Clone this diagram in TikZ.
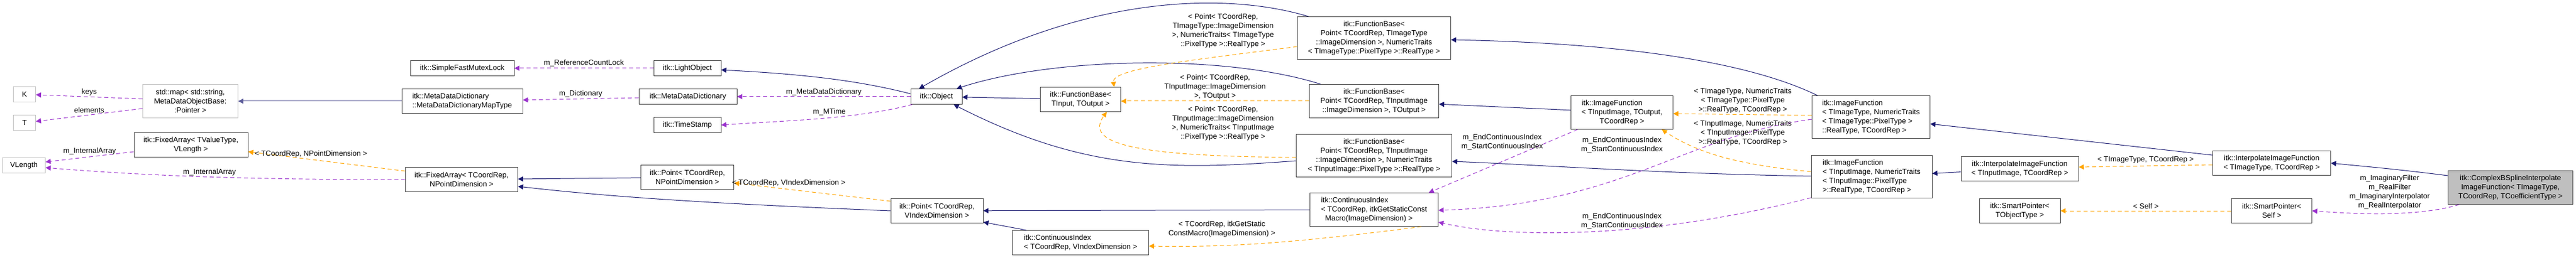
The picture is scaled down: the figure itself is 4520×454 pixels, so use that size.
\documentclass[tikz,border=0pt]{standalone}
\usepackage{fontspec}
\setmainfont{Liberation Sans}
\usetikzlibrary{arrows.meta,calc}
\definecolor{navyc}{HTML}{191970}
\definecolor{purp}{HTML}{9A32CD}
\definecolor{orng}{HTML}{FFA500}
\newcommand{\lblf}{\fontsize{13}{16}\selectfont}
\begin{document}
\begin{tikzpicture}[x=1pt,y=-1pt,
  box/.style={draw=black!75, line width=0.9pt, fill=white, font=\lblf, align=center, inner sep=0pt},
  gbox/.style={box, draw=black!25},
  lbox/.style={box, align=left},
  inh/.style={draw=navyc, line width=1pt, -{Triangle[length=9pt,width=9pt]}},
  mem/.style={draw=purp, line width=1pt, dash pattern=on 7pt off 5pt, -{Triangle[length=9pt,width=9pt]}},
  tpl/.style={draw=orng, line width=1pt, dash pattern=on 7pt off 5pt, -{Triangle[length=9pt,width=9pt]}},
  lab/.style={font=\lblf, align=center, inner sep=0pt}]
\useasboundingbox[fill=white] (0,0) rectangle (4520,454);
\newcommand{\bx}[6]{\node[#1, minimum width=#4pt, minimum height=#5pt] (#2) at (#3) {#6};}
\bx{gbox}{K}{43,166}{39}{27}{K}
\bx{gbox}{T}{43,216}{39}{27}{T}
\bx{gbox}{VL}{42,291}{75}{27}{VLength}
\bx{gbox}{map}{334,178}{167}{59}{std::map< std::string,\\ MetaDataObjectBase:\\:Pointer >}
\bx{box}{fav}{335,255}{200}{43}{itk::FixedArray< TValueType,\\ VLength >}
\bx{box}{mutex}{811,120}{182}{27}{itk::SimpleFastMutexLock}
\bx{lbox}{maptype}{811,178}{212}{43}{itk::MetaDataDictionary\\::MetaDataDictionaryMapType}
\bx{box}{fan}{810,316}{197}{43}{itk::FixedArray< TCoordRep,\\ NPointDimension >}
\bx{box}{light}{1206,120}{118}{27}{itk::LightObject}
\bx{box}{mdd}{1207,170}{172}{27}{itk::MetaDataDictionary}
\bx{box}{ts}{1206,220}{118}{27}{itk::TimeStamp}
\bx{box}{pn}{1206,312}{163}{43}{itk::Point< TCoordRep,\\ NPointDimension >}
\bx{box}{pv}{1644,371}{162}{43}{itk::Point< TCoordRep,\\ VIndexDimension >}
\bx{lbox}{civ}{1896,427}{239}{43}{itk::ContinuousIndex\\< TCoordRep, VIndexDimension >}
\bx{box}{obj}{1643,170}{90}{27}{itk::Object}
\bx{box}{fbio}{1896,175}{141}{43}{itk::FunctionBase<\\ TInput, TOutput >}
\bx{box}{fbA}{2411,67}{269}{75}{itk::FunctionBase<\\ Point< TCoordRep, TImageType\\::ImageDimension >, NumericTraits\\< TImageType::PixelType >::RealType >}
\bx{box}{fbB}{2411,178}{227}{59}{itk::FunctionBase<\\ Point< TCoordRep, TInputImage\\::ImageDimension >, TOutput >}
\bx{box}{fbC}{2411,274}{273}{75}{itk::FunctionBase<\\ Point< TCoordRep, TInputImage\\::ImageDimension >, NumericTraits\\< TInputImage::PixelType >::RealType >}
\bx{lbox}{cib}{2411,369}{225}{59}{itk::ContinuousIndex\\< TCoordRep, itkGetStaticConst\\ \ \ Macro(ImageDimension) >}
\bx{box}{ifA}{2846,198}{179}{59}{itk::ImageFunction\phantom{XXXX}\\< TInputImage, TOutput,\\TCoordRep >}
\bx{lbox}{ifB}{3283,206}{207}{75}{itk::ImageFunction\\< TImageType, NumericTraits\\< TImageType::PixelType >\\ ::RealType, TCoordRep >}
\bx{lbox}{ifC}{3284,311}{212}{75}{itk::ImageFunction\\< TInputImage, NumericTraits\\< TInputImage::PixelType\\ >::RealType, TCoordRep >}
\bx{box}{ii}{3544,297}{206}{43}{itk::InterpolateImageFunction\\< TInputImage, TCoordRep >}
\bx{box}{spt}{3544,371}{142}{43}{itk::SmartPointer<\\ TObjectType >}
\bx{box}{it}{3986,287}{207}{43}{itk::InterpolateImageFunction\\< TImageType, TCoordRep >}
\bx{box}{sps}{3986,371}{141}{43}{itk::SmartPointer<\\ Self >}
\node[box, fill=black!25, minimum width=219pt, minimum height=59pt] (cb) at (4405,330) {itk::ComplexBSplineInterpolate\\ImageFunction< TImageType,\\ TCoordRep, TCoefficientType >};
% inheritance
\draw[inh, draw=navyc!70] (maptype) -- (map);
\draw[inh] (pn) -- (fan);
\draw[inh] (pv.west) .. controls (1300,360) and (1100,350) .. ($(fan.east)+(0,12)$);
\draw[inh] ($(civ.north west)+(25,0)$) -- ($(pv.south east)+(0,-2)$);
\draw[inh] (cib) -- (pv);
\draw[inh] ($(obj.west)+(0,-5)$) .. controls (1500,140) and (1400,130) .. ($(light.east)+(0,3)$);
\draw[inh] (fbio) -- (obj);
\draw[inh] ($(fbA.north west)+(20,0)$) .. controls (2150,-15) and (1900,-10) .. ($(obj.north west)+(15,0)$);
\draw[inh] ($(fbB.north west)+(20,0)$) .. controls (2150,95) and (1850,100) .. ($(obj.north east)+(-10,0)$);
\draw[inh] ($(fbC.west)+(0,9)$) .. controls (2050,300) and (1900,300) .. ($(obj.south east)+(-15,0)$);
\draw[inh] (ifA) -- (fbB);
\draw[inh] ($(ifB.north west)+(10,0)$) .. controls (3050,100) and (2800,75) .. ($(fbA.east)+(0,3)$);
\draw[inh] ($(ifC.west)+(0,-1)$) .. controls (2900,305) and (2700,290) .. ($(fbC.east)+(0,10)$);
\draw[inh] (ii) -- (ifC);
\draw[inh] ($(it.west)+(0,-14)$) -- ($(ifB.east)+(0,12)$);
\draw[inh] ($(cb.north west)+(0,9)$) .. controls (4200,297) and (4150,293) .. (it.east);
% members
\draw[mem] ($(map.west)+(0,-4)$) -- node[lab, above=2pt, pos=0.5] (lk) {keys} (K);
\draw[mem] ($(map.west)+(0,13)$) -- node[lab, above=3pt, pos=0.5] (le) {elements} (T);
\draw[mem] ($(fav.west)+(0,12)$) -- node[lab, above=3pt, pos=0.5] (lm1) {m\_InternalArray} ($(VL.east)+(0,-6)$);
\draw[mem] ($(fan.west)+(0,0)$) .. controls (500,316) and (300,313) .. node[lab, pos=0.55, above=2pt] (lm2) {m\_InternalArray} ($(VL.east)+(0,4)$);
\draw[mem] (light) -- node[lab, above=2pt] (lr) {m\_ReferenceCountLock} (mutex);
\draw[mem] ($(mdd.west)+(0,2)$) -- node[lab, above=2pt] (ld) {m\_Dictionary} ($(maptype.east)+(0,-2)$);
\draw[mem] (obj) -- node[lab, above=1pt] (lmd) {m\_MetaDataDictionary} (mdd);
\draw[mem] ($(obj.south west)+(3,0)$) .. controls (1500,210) and (1380,212) .. node[lab, pos=0.45, above=4pt] (lmt) {m\_MTime} (ts.east);
\draw[mem] ($(ifA.south west)+(12,0)$) -- node[lab, pos=0.2, left=8pt] (le1) {m\_EndContinuousIndex\\m\_StartContinuousIndex} ($(cib.north east)+(-17,0)$);
\draw[mem] ($(ifB.west)+(0,4)$) .. controls (2950,240) and (2850,360) .. ($(cib.east)+(0,1)$);
\node[lab] (le2) at (2846,255) {m\_EndContinuousIndex\\m\_StartContinuousIndex};
\draw[mem] ($(ifC.south west)+(0,-1)$) .. controls (2900,420) and (2650,420) .. ($(cib.east)+(0,22)$);
\node[lab] (le3) at (2846,389) {m\_EndContinuousIndex\\m\_StartContinuousIndex};
\draw[mem] ($(cb.south west)+(20,0)$) .. controls (4250,380) and (4150,378) .. (sps.east);
\node[lab] (lsm) at (4193,338) {m\_ImaginaryFilter\\m\_RealFilter\\m\_ImaginaryInterpolator\\m\_RealInterpolator};
% templates
\draw[tpl] ($(fan.north west)+(0,7)$) -- node[lab, pos=0.6, above=3pt] (t1) {< TCoordRep, NPointDimension >} ($(fav.east)+(0,12)$);
\draw[tpl] ($(pv.north west)+(0,5)$) -- node[lab, pos=0.65, above=5pt] (t2) {< TCoordRep, VIndexDimension >} ($(pn.east)+(0,10)$);
\draw[tpl] ($(fbA.west)+(0,15)$) .. controls (2100,105) and (1950,120) .. ($(fbio.north east)+(-12,0)$);
\node[lab] (t3) at (2146,54) {< Point< TCoordRep,\\TImageType::ImageDimension\\>, NumericTraits< TImageType\\::PixelType >::RealType >};
\draw[tpl] ($(fbB.west)+(0,0)$) -- node[lab, above=2pt] (t4) {< Point< TCoordRep,\\TInputImage::ImageDimension\\>, TOutput >} ($(fbio.east)+(0,3)$);
\draw[tpl] ($(fbC.west)+(0,3)$) .. controls (2000,275) and (1900,255) .. ($(fbio.south east)+(-25,0)$);
\node[lab] (t5) at (2146,217) {< Point< TCoordRep,\\TInputImage::ImageDimension\\>, NumericTraits< TInputImage\\::PixelType >::RealType >};
\draw[tpl] ($(cib.south east)+(-30,0)$) .. controls (2250,430) and (2150,435) .. ($(civ.east)+(0,6)$);
\node[lab] (t6) at (2144,403) {< TCoordRep, itkGetStatic\\ConstMacro(ImageDimension) >};
\draw[tpl] ($(ifB.west)+(0,-3)$) -- ($(ifA.east)+(0,2)$);
\node[lab] (t7) at (3058,177) {< TImageType, NumericTraits\\< TImageType::PixelType\\>::RealType, TCoordRep >};
\draw[tpl] ($(ifC.west)+(0,-9)$) .. controls (3050,290) and (2980,270) .. ($(ifA.south east)+(-20,0)$);
\node[lab] (t8) at (3058,234) {< TInputImage, NumericTraits\\< TInputImage::PixelType\\>::RealType, TCoordRep >};
\draw[tpl] ($(it.west)+(0,3)$) -- node[lab, above=4pt] (t9) {< TImageType, TCoordRep >} ($(ii.east)+(0,-3)$);
\draw[tpl] (sps) -- node[lab, above=3pt] (t10) {< Self >} (spt);
\end{tikzpicture}
\end{document}
